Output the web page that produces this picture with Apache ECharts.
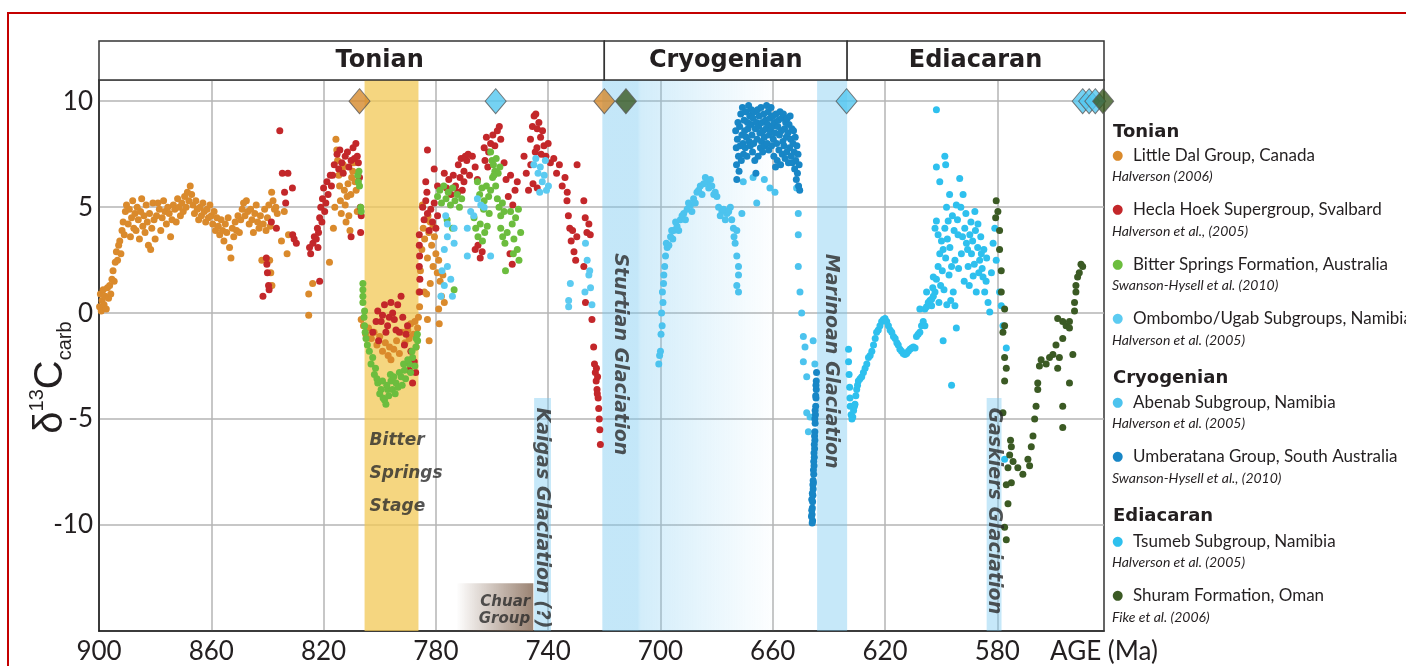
<!DOCTYPE html>
<html>
<head>
<meta charset="utf-8">
<title>Neoproterozoic carbon isotope record</title>
<script src="https://cdn.jsdelivr.net/npm/echarts@6.0.0/dist/echarts.min.js"></script>
<style>
  html, body { margin: 0; padding: 0; background: #fff; overflow: hidden; }
  #frame { position: absolute; left: 7px; top: 12px; width: 1440px; height: 720px; border: 2px solid #c40000; box-sizing: border-box; }
  #chart { position: absolute; left: 0; top: 0; width: 1406px; height: 666px; }
</style>
</head>
<body>
<div id="frame"></div>
<div id="chart"></div>
<script>
// axes
const xTicks = [900, 860, 820, 780, 740, 700, 660, 620, 580];
const periodNames = ['Tonian', 'Cryogenian', 'Ediacaran'];
const periodBounds = [900, 720, 633.5, 542];

// legend
const seriesNames = [
  'Little Dal Group, Canada',
  'Hecla Hoek Supergroup, Svalbard',
  'Bitter Springs Formation, Australia',
  'Ombombo/Ugab Subgroups, Namibia',
  'Abenab Subgroup, Namibia',
  'Umberatana Group, South Australia',
  'Tsumeb Subgroup, Namibia',
  'Shuram Formation, Oman'
];
const citations = [
  'Halverson (2006)',
  'Halverson et al., (2005)',
  'Swanson-Hysell et al. (2010)',
  'Halverson et al. (2005)',
  'Halverson et al. (2005)',
  'Swanson-Hysell et al., (2010)',
  'Halverson et al. (2005)',
  'Fike et al. (2006)'
];
const seriesColors = ['#da8a2c', '#c3272a', '#6cbd3e', '#5ccbf1', '#4cc3ee', '#1886c6', '#2ec0ee', '#3b5a24'];

// intervals (age Ma)
const bitterSpringsStage = [805.4, 786.2];
const sturtian = [720.7, 658];
const marinoan = [644.2, 633.5];
const kaigas = [745.0, 739.0, -4.0];
const gaskiers = [583.8, 578.5, -4.0];
const chuarGroup = [772.7, 745.3, -12.75];

// radiometric age constraints (diamonds)
const datesOrange = [807.2, 720.0];
const datesBlue = [758.7, 633.7, 549.6, 547.3, 545.1];
const datesGreen = [712.3, 542.3];

// [age Ma, d13C permil]
const littleDal = [
[899.8,0.3],[899.5,0.9],[899.2,0.1],[898.9,0.6],[898.5,1.1],[898.2,0.4],[897.8,0.8],[897.4,0.2],[897.0,1.2],[896.6,0.7],[896.2,1.3],[895.8,0.9],[895.4,1.6],
[895.0,2.0],[894.6,1.5],[894.2,2.4],[893.8,2.9],[893.4,2.5],[893.0,3.2],[892.6,3.4],[892.2,2.8],[891.8,3.9],[891.4,4.3],[891.0,3.7],[890.6,4.8],[890.2,5.1],
[889.6,4.2],[889.2,4.9],[888.8,3.6],[888.4,4.5],[888.0,5.3],[887.6,4.0],[887.2,4.7],[886.8,3.9],[886.4,5.0],[886.0,4.4],[885.6,3.5],[885.2,4.8],[884.8,5.4],[884.4,4.1],[884.0,4.6],[883.6,3.8],[883.2,5.1],[882.8,4.3],[882.4,3.2],[882.0,4.7],[881.6,3.0],[881.2,4.0],[880.8,5.2],[880.4,4.4],[880.0,3.5],
[879.5,4.6],[879.0,5.2],[878.5,4.9],[878.0,3.9],[877.5,4.5],[877.0,5.3],[876.5,4.8],[876.0,4.2],[875.5,5.0],[875.0,4.7],[874.5,3.6],[874.0,4.4],[873.5,5.1],[873.0,4.9],[872.5,4.3],[872.0,5.4],[871.5,5.0],[871.0,4.6],[870.5,5.2],[870.0,4.8],[869.5,5.5],[869.0,5.0],[868.5,5.7],[868.0,5.3],[867.5,6.0],[867.0,5.6],[866.5,5.1],[866.0,4.7],[865.5,5.3],[865.0,4.9],[864.5,4.4],[864.0,5.0],[863.5,4.6],[863.0,5.2],[862.5,4.8],[862.0,4.3],[861.5,4.9],[861.0,4.5],[860.5,5.1],[860.0,4.6],
[859.5,4.2],[859.0,4.8],[858.5,3.9],[858.0,4.5],[857.5,4.1],[857.0,3.7],[856.5,4.4],[856.0,3.9],[855.5,3.4],[855.0,4.2],[854.5,3.8],[854.0,4.5],[853.5,3.1],[853.0,2.6],[852.5,4.0],[852.0,3.6],[851.5,4.3],[851.0,3.9],[850.5,4.6],[850.0,3.8],[849.5,4.4],[849.0,4.9],[848.5,5.2],[848.0,4.6],[847.5,5.3],[847.0,4.8],[846.5,4.2],[846.0,4.9],[845.5,4.4],[845.0,3.8],[844.5,4.7],[844.0,5.1],[843.5,4.3],[843.0,4.0],[842.5,4.6],[842.0,2.5],[841.5,4.2],[841.0,4.9],[840.5,3.9],[840.0,4.5],[839.5,5.1],[839.0,4.1],
[838.5,5.7],[838.0,5.3],[837.5,4.9],[837.0,5.0],[836.5,4.7],[839.2,2.5],[838.8,1.9],[838.4,1.3],[835.0,3.4],[834.0,4.8],[833.0,2.8],[832.5,3.7],
[825.3,0.9],[823.9,1.4],[825.3,-0.1],[817.9,2.4],
[816.5,4.0],[816.0,5.0],[815.6,8.2],[815.3,7.7],[815.0,7.2],[814.6,6.5],[814.3,6.0],[814.0,5.3],[813.7,4.7],[813.3,6.8],[813.0,7.0],[812.6,5.8],[812.3,5.1],[812.0,4.3],[811.6,5.5],[811.3,6.1],[811.0,4.6],[810.6,3.9],[810.3,5.6],[810.0,6.4],[809.6,6.7],[809.2,7.1],[808.8,6.2],[808.4,5.8],[808.0,4.8],
[806.6,-0.3],[805.8,-0.6],[805.0,-1.0],[804.0,-0.7],[803.0,-1.2],[802.0,-0.9],[801.0,-1.5],[800.0,-1.1],[799.0,-1.8],[798.0,-1.4],[797.0,-2.0],[796.5,-1.6],[796.0,-2.2],[795.0,-1.7],[794.0,-1.3],[793.0,-1.9],[792.0,-0.9],[791.0,-1.4],[790.0,-0.8],[789.5,-1.2],[789.0,-0.5],[788.0,-1.0],[787.5,-0.4],[787.0,-1.6],[786.5,-0.7],
[786.0,1.0],[785.5,2.0],[785.0,3.0],[784.5,4.0],[784.8,5.1],[784.0,3.5],[783.5,4.4],[783.0,2.6],[782.5,3.8],[782.0,4.3],[781.5,3.2],[781.0,2.2],[780.5,3.6],[780.0,2.8],[779.5,1.9],[779.0,2.5],[778.5,1.5],[778.0,0.8],[777.5,1.8],[777.0,0.5],
[783.0,-0.3],[782.4,-1.3],[783.3,0.9],[782.0,1.4],[779.0,0.2],[778.8,-0.5],[781.0,4.1],[782.8,4.6],[785.8,0.3],[786.2,-0.2],[784.1,1.0]
];

const heclaHoek = [
[841.6,0.8],[840.4,2.6],[840.2,2.3],[840.0,1.9],[839.6,1.3],[839.4,1.1],[838.6,4.3],[836.8,4.0],[835.6,8.6],[834.7,6.6],[833.9,5.7],[833.5,5.2],[832.7,6.6],[831.1,5.9],[831.0,3.7],[830.5,3.5],[829.7,3.3],
[825.0,3.1],[824.6,2.8],[821.4,1.5],[823.8,3.3],[823.3,3.6],[822.6,3.5],[822.2,4.0],[822.0,3.1],[821.8,3.8],[821.4,4.5],[821.0,5.0],[820.6,4.3],[820.4,5.4],[820.0,5.9],[819.6,4.8],[819.2,5.2],[818.8,6.2],[818.4,5.6],[817.6,6.5],[817.2,6.0],[816.8,6.5],[816.2,7.0],[815.2,7.5],[814.6,6.8],[814.2,7.7],[813.5,7.1],[813.0,6.6],[812.3,7.4],[811.5,7.6],[811.0,6.9],[810.2,7.2],[809.5,7.8],[809.0,7.3],[808.5,8.0],[808.0,7.4],[807.6,7.1],[807.2,6.4],[806.9,5.0],[806.6,4.6],[806.8,3.8],[810.2,3.6],
[802.5,-0.9],[801.3,-0.4],[800.7,0.1],[800.4,-1.3],[799.5,-0.4],[799.0,-0.1],[798.3,0.4],[797.8,-0.9],[797.2,-0.6],[796.6,-0.2],[796.0,0.5],[795.4,0.0],[794.8,-0.3],[794.2,-0.8],[793.6,0.4],[793.0,-0.9],[792.4,0.8],[791.8,-0.2],[791.2,-1.5],[790.6,-1.0],[790.1,-0.6],[789.5,-2.7],[788.9,-1.8],[788.3,-3.3],[787.7,-2.3],[787.2,-2.8],
[785.9,3.7],[785.9,3.2],[785.8,2.7],[785.9,2.2],[785.7,1.6],[785.8,1.0],
[784.7,5.0],[784.2,4.4],[783.6,5.3],[783.0,4.7],[782.4,3.9],[781.8,4.9],[781.2,4.3],[780.6,5.2],[780.0,4.0],[779.4,4.6],
[783.0,7.7],[780.6,6.8],[783.6,6.2],[783.2,5.7],[779.4,6.0],
[777.0,6.6],[776.2,5.9],[775.4,6.3],[774.6,5.6],[773.8,6.5],[773.0,6.0],[772.2,5.7],[771.4,6.4],[770.6,5.8],[770.0,6.2],
[772.0,7.0],[771.0,7.3],[770.0,6.7],[769.0,7.2],[768.0,6.5],[767.0,7.4],[766.0,6.9],[765.2,6.3],[769.5,7.4],[768.5,7.5],
[762.8,7.8],[762.0,8.3],[761.2,7.6],[760.5,8.0],[759.7,8.4],[759.0,7.9],[758.1,8.6],[757.4,8.8],[756.9,8.2],[762.5,7.2],[761.5,6.9],
[765.0,3.2],[764.2,2.6],[763.5,2.9],[766.0,3.0],
[755.7,7.1],[755.0,6.3],[754.2,5.5],[753.4,6.5],[752.6,5.1],[751.8,5.8],[751.0,6.2],[752.8,2.3],[753.6,2.8],
[748.6,7.4],[747.8,6.6],[747.0,5.8],[746.2,7.0],[745.4,6.1],[744.6,7.6],[743.9,5.9],
[746.3,8.2],[745.6,8.8],[745.0,9.3],[744.4,9.4],[743.9,8.7],[743.3,9.0],[742.7,8.3],[742.0,8.6],[741.5,7.9],[740.8,7.4],[740.0,8.0],[739.2,7.1],[744.0,7.8],[742.5,7.5],
[738.0,7.3],[737.0,6.6],[736.0,7.0],[735.0,6.0],[734.0,6.4],[733.2,5.7],[729.7,7.0],
[733.3,5.3],[732.8,4.6],[732.3,4.0],[731.8,3.4],[731.3,3.9],[730.8,2.9],[730.2,2.5],[729.8,3.6],
[727.3,5.3],[726.8,4.5],[726.2,3.8],[725.5,4.2],[725.0,3.7],[727.3,2.2],[726.7,0.5],
[724.4,-0.3],[723.8,-1.6],[723.5,-2.4],[723.2,-2.8],[722.9,-3.2],[722.6,-3.6],[722.4,-3.0],[722.2,-4.0],[722.0,-4.5],[721.8,-5.0],[721.6,-5.5],[721.4,-6.2],[722.8,-2.6],[722.5,-3.8]
];

const bitterSprings = [
[807.8,6.5],[807.6,6.2],[807.4,6.7],[807.2,6.0],[806.6,4.8],[806.8,5.0],
[806.0,1.4],[806.0,1.1],[806.0,0.5],[805.4,0.1],[805.4,-0.6],[804.9,-1.2],[803.7,-1.8],[803.1,-2.4],[801.9,-2.9],[800.7,-3.3],[799.5,-3.6],[798.3,-4.1],[797.2,-3.6],[796.0,-3.2],[794.2,-3.3],[792.4,-3.0],[791.2,-2.7],[789.5,-2.4],[788.3,-2.1],[787.1,-1.6],[786.5,-1.3],
[802.5,-2.1],[801.5,-2.6],[801.0,-3.1],[800.0,-3.8],[799.0,-3.2],[798.8,-4.0],[797.8,-4.3],[797.5,-3.4],[796.8,-3.9],[796.2,-2.9],[795.5,-3.6],[795.0,-3.0],[794.5,-3.8],[793.5,-3.5],[793.0,-2.8],[792.0,-3.4],[791.5,-2.4],[790.8,-3.1],[790.0,-2.2],[789.0,-2.8],[788.5,-1.8],[787.5,-2.5],[787.0,-1.2],[786.6,-1.0],[806.0,0.8],[805.6,-0.2],[805.2,-0.9],[804.4,-1.5],
[779.4,5.5],[778.6,5.8],[778.0,5.2],[777.2,6.0],[776.4,5.4],[775.6,5.7],[774.8,5.1],[774.0,5.9],[773.2,5.3],[772.4,5.6],[771.6,5.0],[770.8,5.4],[774.1,4.0],[773.5,1.1],[776.0,4.4],
[765.2,6.2],[764.4,5.6],[763.6,5.9],[762.8,5.3],[762.0,6.0],[761.2,5.5],[760.5,5.8],[759.8,6.4],[760.5,7.6],[760.0,7.2],[759.5,7.0],[759.0,6.7],[758.5,7.3],[757.8,6.6],[757.2,6.9],[759.3,6.5],[758.7,6.0],[758.1,5.4],[757.5,5.0],[756.9,4.6],[756.3,5.2],[755.7,4.8],
[766.4,4.5],[765.8,4.0],[765.0,3.6],[764.2,4.2],[763.4,3.4],[762.6,3.8],[761.7,4.1],[756.9,4.0],[756.2,3.6],[755.4,3.3],[754.6,3.8],[753.4,4.8],[752.8,4.2],[752.2,3.5],[751.6,4.5],[751.0,3.0],[750.4,2.5],[749.8,3.8],[750.6,4.9],[755.2,2.0],[752.4,2.8],[761.0,4.7],[763.0,4.9]
];

const ombombo = [
[777.0,3.0],[775.9,4.2],[775.9,3.6],[773.5,4.0],[773.5,3.3],[768.8,4.0],[775.9,2.2],[777.0,1.3],[774.7,1.6],[774.1,0.8],[768.8,2.7],[778.2,0.8],[765.2,5.4],[764.0,5.1],[762.8,5.0],[760.5,2.7],[767.6,4.8],[766.5,4.6],[777.8,2.0],[776.5,4.6],
[745.1,7.0],[744.4,7.3],[743.6,6.6],[742.8,6.9],[742.1,6.2],[741.4,6.5],[740.6,5.8],[739.9,6.0],[743.0,5.7],[741.0,7.2],
[726.7,3.3],[726.1,2.5],[725.5,1.8],[724.9,1.2],[724.4,0.4],[726.9,1.0],[725.2,2.0],[732.1,1.4],[732.7,0.6],[732.7,0.3]
];

const abenab = [
[700.6,-2.4],[700.0,-1.8],[699.4,-0.6],[699.1,0.5],[698.8,1.8],[698.2,2.7],[697.6,3.1],[696.4,3.6],[695.3,3.9],[694.1,4.1],[692.9,4.4],[691.7,4.7],[690.5,4.9],[689.3,5.1],[688.2,5.4],[687.0,5.7],[685.8,6.0],[684.6,6.1],[683.4,6.2],[681.7,6.0],[680.5,5.7],[679.3,5.0],[678.1,4.8],[676.3,4.7],[675.1,5.0],[674.6,4.4],[674.0,4.0],[672.8,3.9],[673.4,3.3],[672.8,2.7],[672.2,2.2],[672.2,1.8],[672.8,1.3],[672.2,1.0],[671.0,4.7],
[700.3,-2.0],[699.8,-1.0],[699.6,0.0],[699.3,1.0],[698.9,1.4],[698.5,2.2],[697.9,3.3],[697.0,3.2],[696.0,3.9],[695.6,3.5],[694.6,4.3],[693.5,3.9],[692.3,4.6],[691.1,4.4],[690.0,5.2],[688.8,4.8],[687.6,5.2],[686.4,5.8],[685.2,5.6],[684.0,6.4],[682.8,5.9],[682.2,6.3],[681.0,5.6],[679.9,5.5],[678.7,4.6],[677.5,4.9],[676.9,4.4],[675.7,4.8],[673.8,3.6],
[670.5,6.2],[667.0,6.4],[663.0,6.3],[661.0,5.9],[665.7,5.2],[659.2,5.7],[651.5,5.9],
[650.9,4.7],[650.9,3.7],[650.9,2.2],[650.3,1.0],[649.7,0.0],[649.1,-1.1],[648.5,-1.6],[649.1,-2.3],[647.9,-3.0],[647.9,-4.7],[646.7,-4.9],[645.6,-1.3],[645.0,-2.4],[647.3,-5.6]
];

const umberatana = [
[673.2,8.6],[673.0,7.8],[672.9,7.0],[672.8,6.3],[672.6,8.2],[672.4,9.0],[672.2,7.4],[672.0,6.7],[671.8,8.8],[671.6,7.9],[671.4,9.4],[671.2,7.2],[671.0,8.4],[670.8,9.7],[670.6,8.0],[670.4,7.5],[670.2,9.1],[670.0,8.6],[669.8,7.8],[669.6,9.5],[669.4,8.3],[669.2,7.4],[669.0,9.0],[668.8,8.7],[668.6,9.8],[668.4,8.1],[668.2,9.3],[668.0,7.9],[667.8,8.9],[667.6,9.6],[667.4,8.4],[667.2,7.6],[667.0,9.2],[666.8,8.0],[666.6,9.5],[666.4,7.2],[666.2,8.7],[666.0,6.6],[665.8,9.0],[665.6,8.2],[665.4,9.6],[665.2,7.4],[665.0,8.8],[664.8,9.3],[664.6,8.5],[664.4,7.8],[664.2,9.7],[664.0,8.1],[663.8,9.0],[663.6,7.6],[663.4,8.6],[663.2,9.4],[663.0,8.3],[662.8,7.9],[662.6,9.1],[662.4,8.7],[662.2,9.8],[662.0,8.0],[661.8,8.9],[661.6,9.5],[661.4,7.7],[661.2,8.4],[661.0,9.2],[660.8,8.6],[660.6,9.7],[660.4,7.9],[660.2,8.8],[660.0,9.3],[659.8,8.2],[659.6,7.4],[659.4,9.0],[659.2,8.5],[659.0,6.9],[658.8,9.4],[658.6,8.0],[658.4,7.2],[658.2,8.8],[658.0,9.1],[657.8,7.7],[657.6,8.4],[657.4,9.5],[657.2,7.0],[657.0,8.6],[656.8,9.2],[656.6,7.5],[656.4,8.1],[656.2,9.4],[656.0,7.9],[655.8,8.7],[655.6,7.3],[655.4,9.0],[655.2,8.3],[655.0,7.6],[654.8,9.2],[654.6,8.5],[654.4,7.1],[654.2,8.9],[654.0,7.8],[653.8,9.3],[653.6,8.2],[653.4,7.4],[653.2,8.7],[653.0,7.1],[652.8,8.0],[652.6,8.6],[652.4,7.6],[652.2,6.8],[652.0,8.3],[651.8,7.2],[651.6,6.3],[651.4,7.9],[651.2,6.6],[651.0,7.5],[650.8,6.0],[650.6,7.0],[650.4,5.8],
[644.4,-2.8],[644.5,-3.2],[644.5,-3.6],[644.6,-4.0],[644.7,-4.4],[644.8,-4.8],[644.9,-5.2],[645.0,-5.6],[645.0,-6.0],[645.1,-6.4],[645.2,-6.8],[645.3,-7.2],[645.4,-7.6],[645.5,-8.0],[645.6,-8.3],[645.7,-8.6],[645.8,-8.9],[645.9,-9.2],[646.0,-9.5],[645.8,-9.8],[646.1,-8.8],[645.6,-7.9],[645.3,-6.6],[645.0,-5.0],[644.7,-3.9],[644.9,-4.6],[645.2,-6.2],[645.5,-7.4],[645.9,-8.5],[646.1,-9.3],[644.6,-3.4],[645.1,-5.8],[645.4,-7.0],[645.7,-8.1],[646.2,-9.6],[645.95,-9.9]
];

const tsumeb = [
[633.0,-1.7],[633.0,-2.3],[632.8,-2.9],[632.6,-3.5],[632.5,-4.0],[632.4,-4.4],[632.1,-4.8],[631.8,-5.0],[631.5,-4.9],[631.2,-4.6],[630.9,-4.4],[630.7,-4.3],[630.4,-3.9],[630.1,-3.6],[629.8,-3.4],[629.5,-3.2],[628.9,-3.1],[628.3,-3.0],[627.7,-2.8],[627.1,-2.6],[626.5,-2.4],[625.9,-2.1],[625.3,-2.0],[624.7,-1.8],[624.1,-1.5],[623.5,-1.2],[623.0,-0.9],[622.4,-0.8],[621.8,-0.6],[621.2,-0.4],[620.6,-0.3],[620.0,-0.25],[619.4,-0.4],[618.8,-0.6],[618.2,-0.8],[617.6,-0.9],[617.0,-1.1],[616.4,-1.2],[615.8,-1.4],[615.3,-1.5],[614.7,-1.7],[614.1,-1.8],[613.5,-1.9],[612.9,-1.95],[612.3,-1.9],[611.7,-1.8],[611.1,-1.7],[610.5,-1.65],[609.9,-1.6],[609.3,-1.65],[608.8,-1.1],[608.2,-1.0],[607.6,-0.9],[607.0,-0.6],[606.4,-0.4],[605.8,0.2],[605.2,0.3],[604.6,0.5],[604.0,0.6],[603.4,0.65],[602.8,0.8],[602.2,1.0],
[601.7,1.6],[601.1,2.2],[600.5,2.8],[599.9,3.4],[599.3,3.0],[598.7,4.0],[598.1,5.0],[597.5,4.35],[596.9,3.1],[596.3,2.2],[595.7,1.0],[595.1,0.35],[595.1,2.5],[594.6,5.1],[594.0,3.7],[593.4,6.35],[592.8,2.8],[592.2,5.6],[591.6,4.0],[591.0,3.3],[590.4,2.2],[589.8,3.7],[589.2,2.8],[588.6,1.75],[588.0,4.8],[587.5,1.0],[586.9,4.2],[586.3,2.5],[585.7,2.8],[585.1,1.7],[584.5,1.0],[583.3,0.5],[582.7,0.05],[582.1,1.9],[581.5,3.3],[580.9,4.0],[580.4,2.5],[579.2,1.0],[578.6,0.35],[578.0,-0.6],[576.8,-1.65],[577.4,-6.9],
[601.7,9.6],[598.7,7.4],[601.7,6.9],[598.4,7.0],[600.5,6.2],[596.3,-3.4],[599.3,-1.3],[594.6,-0.7],[601.7,4.35],[602.2,4.0],[601.1,3.7],[602.8,1.7],[603.4,0.35],[605.8,-0.6],[607.6,0.2],[605.2,1.0],
[597.0,5.6],[596.0,4.6],[595.4,3.9],[594.2,4.4],[593.8,2.1],[593.0,5.0],[592.4,3.6],[591.8,1.5],[591.2,4.7],[590.6,3.0],[590.0,1.3],[589.4,4.3],[588.8,3.4],[588.2,2.3],[587.8,3.9],[587.0,3.1],[586.6,1.9],[585.9,3.6],[585.4,2.1],[584.8,3.0],[584.0,1.5],[583.8,2.6],[599.6,2.0],[600.2,1.3],[598.4,2.6],[597.8,3.5],[597.2,1.8],[596.6,0.6],[599.0,1.1],[598.0,0.4],[600.8,0.5],[603.0,1.2]
];

const shuram = [
[580.4,5.3],[579.8,4.8],[580.6,4.5],[579.2,3.9],[579.2,3.0],[578.6,2.0],[578.6,1.0],[577.4,0.2],[577.4,-0.6],[578.0,-0.9],[577.4,-2.1],[576.8,-2.6],[577.4,-3.2],[578.0,-4.7],
[575.0,-6.3],[575.6,-6.7],[576.2,-7.3],[575.0,-8.0],[576.8,-8.1],[576.2,-9.0],[577.4,-10.1],[576.8,-10.7],[574.4,-7.0],[575.3,-6.0],
[572.7,-7.3],[570.9,-7.6],[569.1,-6.9],[568.5,-7.2],[567.9,-6.3],[567.3,-5.8],[566.7,-5.0],[566.2,-4.4],[565.6,-3.6],[565.6,-3.3],[565.0,-2.5],[564.4,-2.2],[562.6,-2.4],[561.4,-2.1],[560.2,-1.95],[559.1,-1.5],[558.5,-2.6],[557.9,-2.1],[556.7,-1.2],[556.7,-4.4],[556.7,-5.4],[554.3,-3.3],
[558.5,-0.25],[556.7,-0.4],[555.5,-0.6],[554.3,-0.7],[553.1,-1.95],[552.5,0.1],[552.5,0.5],[552.0,1.0],[552.0,1.3],[551.4,1.7],[550.8,1.9],[550.2,2.3],[549.6,2.2],[554.3,-0.4]
];

const glaciationLabels = [
  ['Sturtian Glaciation', 714.6, 2.82],
  ['Kaigas Glaciation (?)', 742.1, -4.45],
  ['Marinoan Glaciation', 639.1, 2.8],
  ['Gaskiers Glaciation', 581.1, -4.45]
];

const FONT = 'Lato, "DejaVu Sans", sans-serif';
const WIDE = '"DejaVu Sans", sans-serif';
const ARIAL = '"Liberation Sans", Arial, sans-serif';
const INK = '#231f20';
const GRID = '#b4b4b4';

const chart = echarts.init(document.getElementById('chart'));

const pointSeries = [littleDal, heclaHoek, bitterSprings, ombombo, abenab, umberatana, tsumeb, shuram].map((data, i) => ({
  name: seriesNames[i],
  type: 'scatter',
  data: data,
  symbolSize: 7,
  itemStyle: { color: seriesColors[i], opacity: 1 },
  z: 3
}));

function diamonds(ages, color) {
  return {
    type: 'scatter',
    data: ages.map(a => [a, 10]),
    symbol: 'diamond',
    symbolSize: [21, 25],
    itemStyle: { color: color, borderColor: '#5a5a5a', borderWidth: 1 },
    silent: true,
    z: 6
  };
}

const legendRich = {
  n: { fontFamily: FONT, fontSize: 17, lineHeight: 22, color: INK },
  c: { fontFamily: FONT, fontSize: 14, fontStyle: 'italic', lineHeight: 20, color: INK }
};
seriesColors.forEach((c, i) => {
  legendRich['d' + i] = { fontFamily: WIDE, fontSize: 13, lineHeight: 22, color: c, width: 21, align: 'left' };
});

const legendGroups = [[0, 1, 2, 3], [4, 5], [6, 7]];
const legendTops = [147, 394, 533];
const headingTops = [123, 369, 507];

const option = {
  animation: false,
  title: periodNames.map((t, k) => ({
    text: t,
    left: 1113,
    top: headingTops[k],
    padding: 0,
    textStyle: { fontFamily: WIDE, fontWeight: 'bold', fontSize: 18, color: INK }
  })),
  legend: legendGroups.map((g, k) => ({
    data: g.map(i => seriesNames[i]),
    orient: 'vertical',
    left: 1107,
    top: legendTops[k],
    padding: 0,
    itemWidth: 0,
    itemHeight: 0,
    itemGap: 18,
    selectedMode: false,
    formatter: name => {
      const i = seriesNames.indexOf(name);
      return '{d' + i + '|●}{n|' + name + '}\n{c|' + citations[i] + '}';
    },
    textStyle: { rich: legendRich }
  })),
  grid: [
    { left: 99, top: 80, width: 1005, height: 551, show: true, borderColor: '#333', borderWidth: 1.5, backgroundColor: 'transparent', containLabel: false, outerBoundsMode: 'none' },
    { left: 99, top: 41, width: 1005, height: 39, containLabel: false, outerBoundsMode: 'none' }
  ],
  xAxis: [{
    type: 'value', gridIndex: 0, min: 542, max: 900, inverse: true,
    name: 'AGE (Ma)', nameLocation: 'start', nameGap: 0,
    nameTextStyle: { fontFamily: FONT, fontSize: 26, color: INK, align: 'center', verticalAlign: 'top', padding: [8, 0, 0, 0] },
    axisLine: { show: true, onZero: false, lineStyle: { color: '#1a1a1a', width: 1.5 } },
    axisTick: { show: false, customValues: xTicks },
    axisLabel: { customValues: xTicks, fontFamily: FONT, fontSize: 26, color: INK, margin: 8 },
    splitLine: { show: true, lineStyle: { color: GRID, width: 1.5 } }
  }, {
    type: 'value', gridIndex: 1, min: 542, max: 900, inverse: true, show: false
  }],
  yAxis: [{
    type: 'value', gridIndex: 0, min: -15, max: 11, interval: 5,
    name: '{d|δ}{s|13}{d|C}{b|carb}',
    nameLocation: 'middle', nameGap: 24, nameMoveOverlap: false,
    nameTextStyle: {
      color: INK,
      padding: [0, 44, 0, 0],
      rich: {
        d: { fontFamily: ARIAL, fontSize: 40, lineHeight: 48, color: INK },
        s: { fontFamily: ARIAL, fontSize: 20, lineHeight: 20, verticalAlign: 'top', color: INK },
        b: { fontFamily: ARIAL, fontSize: 20, lineHeight: 20, verticalAlign: 'bottom', color: INK }
      }
    },
    axisLine: { show: true, onZero: false, lineStyle: { color: '#1a1a1a', width: 1.5 } },
    axisTick: { show: false },
    axisLabel: { fontFamily: FONT, fontSize: 26, color: INK, margin: 6, showMinLabel: false, showMaxLabel: false },
    splitLine: { show: true, lineStyle: { color: GRID, width: 1.5 } }
  }, {
    type: 'value', gridIndex: 1, min: 0, max: 1, show: false
  }],
  series: [
    // shaded intervals
    {
      type: 'scatter', data: [], silent: true,
      markArea: {
        silent: true,
        label: { show: false },
        data: [
          [{ xAxis: bitterSpringsStage[0], yAxis: -15, itemStyle: { color: 'rgba(242,200,86,0.75)' } }, { xAxis: bitterSpringsStage[1], yAxis: 11 }],
          [{ xAxis: sturtian[0], yAxis: -15, itemStyle: { color: {
              type: 'linear', x: 0, y: 0, x2: 1, y2: 0,
              colorStops: [
                { offset: 0, color: 'rgba(120,200,240,0.44)' },
                { offset: 0.2, color: 'rgba(120,200,240,0.44)' },
                { offset: 0.22, color: 'rgba(120,200,240,0.33)' },
                { offset: 1, color: 'rgba(120,200,240,0)' }
              ] } } }, { xAxis: sturtian[1], yAxis: 11 }],
          [{ xAxis: marinoan[0], yAxis: -15, itemStyle: { color: 'rgba(120,200,240,0.42)' } }, { xAxis: marinoan[1], yAxis: 11 }],
          [{ xAxis: kaigas[0], yAxis: -15, itemStyle: { color: 'rgba(120,200,240,0.42)' } }, { xAxis: kaigas[1], yAxis: kaigas[2] }],
          [{ xAxis: gaskiers[0], yAxis: -15, itemStyle: { color: 'rgba(120,200,240,0.42)' } }, { xAxis: gaskiers[1], yAxis: gaskiers[2] }],
          [{ xAxis: chuarGroup[0], yAxis: -15, itemStyle: { color: {
              type: 'linear', x: 0, y: 0, x2: 1, y2: 0,
              colorStops: [
                { offset: 0, color: 'rgba(126,96,75,0)' },
                { offset: 1, color: 'rgba(126,96,75,0.78)' }
              ] } } }, { xAxis: chuarGroup[1], yAxis: chuarGroup[2] }]
        ]
      }
    },
    // period header
    {
      type: 'scatter', data: [], silent: true, xAxisIndex: 1, yAxisIndex: 1,
      markArea: {
        silent: true,
        itemStyle: { color: '#fff', borderColor: '#333', borderWidth: 1.5 },
        label: { show: true, position: 'inside', fontFamily: WIDE, fontWeight: 'bold', fontSize: 24, color: INK },
        data: periodNames.map((p, k) => [
          { name: p, xAxis: periodBounds[k], yAxis: 0, label: k === 0 ? { offset: [28, 0] } : {} },
          { xAxis: periodBounds[k + 1], yAxis: 1 }
        ])
      }
    },
    ...pointSeries,
    diamonds(datesOrange, '#d6892c'),
    diamonds(datesBlue, '#52c7f0'),
    diamonds(datesGreen, '#3b5a22'),
    // annotations
    {
      type: 'scatter', silent: true, symbolSize: 1, itemStyle: { color: 'rgba(0,0,0,0)' }, z: 4,
      label: {
        show: true, formatter: '{b}', position: 'inside', rotate: -90, align: 'left', verticalAlign: 'middle',
        fontFamily: WIDE, fontWeight: 'bold', fontStyle: 'italic', fontSize: 19, color: '#2a2a2a'
      },
      data: [
        ...glaciationLabels.map(d => ({ name: d[0], value: [d[1], d[2]] })),
        { name: 'Bitter\nSprings\nStage', value: [803.6, -7.57], label: { rotate: 0, fontSize: 17, lineHeight: 33, align: 'left' } },
        { name: 'Chuar\nGroup', value: [746.4, -14.05], label: { rotate: 0, fontSize: 15, lineHeight: 17, align: 'right' } }
      ]
    }
  ]
};

chart.setOption(option);
</script>
</body>
</html>
